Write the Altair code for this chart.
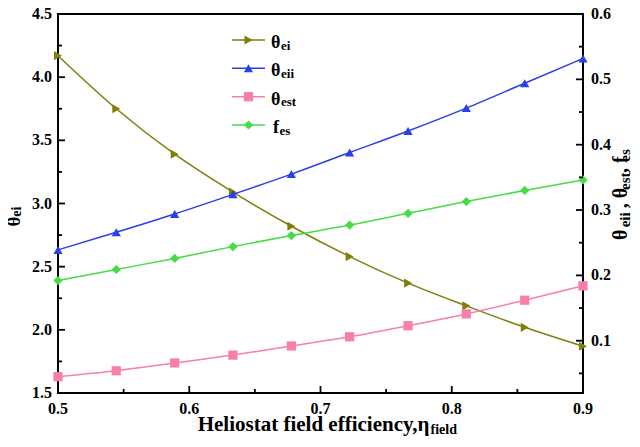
import altair as alt
import pandas as pd

# ---------------- data ----------------
x_vals = [0.5, 0.5444, 0.5889, 0.6333, 0.6778, 0.7222, 0.7667, 0.8111, 0.8556, 0.9]
theta_ei = [4.17, 3.75, 3.39, 3.09, 2.82, 2.58, 2.37, 2.19, 2.02, 1.87]
theta_eii = [0.239, 0.266, 0.294, 0.324, 0.355, 0.388, 0.421, 0.456, 0.494, 0.532]
theta_est = [0.045, 0.054, 0.066, 0.078, 0.092, 0.106, 0.123, 0.141, 0.162, 0.184]
f_es = [0.192, 0.209, 0.226, 0.244, 0.261, 0.277, 0.295, 0.313, 0.330, 0.346]

right_series = ["theta_eii", "theta_est", "f_es"]

x_major = [0.5, 0.6, 0.7, 0.8, 0.9]
x_labels = ["0.5", "0.6", "0.7", "0.8", "0.9"]
x_minor = [0.55, 0.65, 0.75, 0.85]
left_major = [1.5, 2.0, 2.5, 3.0, 3.5, 4.0, 4.5]
left_labels = ["1.5", "2.0", "2.5", "3.0", "3.5", "4.0", "4.5"]
left_minor = [1.75, 2.25, 2.75, 3.25, 3.75, 4.25]
right_major = [0.1, 0.2, 0.3, 0.4, 0.5, 0.6]
right_labels = ["0.1", "0.2", "0.3", "0.4", "0.5", "0.6"]
right_minor = [0.05, 0.15, 0.25, 0.35, 0.45, 0.55]

leg_main = ["θ", "θ", "θ", "f"]
leg_sub = ["ei", "eii", "est", "es"]

x_title_main = "Heliostat field efficiency,η"
x_title_sub = "field"
left_title = ["θ", "ei"]
right_title = ["θ", "eii", ", θ", "est", ", f", "es"]

# ---------------- style ----------------
FONT = "Liberation Serif"
W, H = 525, 379
C_EI = "#7f7f0a"
C_EII = "#2b3fe6"
C_EST = "#f77faa"
C_FES = "#44dd44"
colors = [C_EII, C_EST, C_FES]
shapes = ["triangle-up", "square", "diamond"]
MSIZE = 85

df_left = pd.DataFrame({"x": x_vals, "y": theta_ei})
rows = []
for name, vals in zip(right_series, [theta_eii, theta_est, f_es]):
    for xv, v in zip(x_vals, vals):
        rows.append({"x": xv, "y": v, "s": name})
df_right = pd.DataFrame(rows)

xscale = alt.Scale(domain=[0.5, 0.9], nice=False, zero=False)
lscale = alt.Scale(domain=[1.5, 4.5], nice=False, zero=False)
rscale = alt.Scale(domain=[0.02, 0.6], nice=False, zero=False)

TXT = dict(font=FONT, fontWeight="bold", color="black")

# ---------------- left group ----------------
left_line = alt.Chart(df_left).mark_line(color=C_EI, strokeWidth=1.5, interpolate="monotone").encode(
    x=alt.X("x:Q", scale=xscale, axis=None),
    y=alt.Y("y:Q", scale=lscale, axis=None),
)
left_pts = alt.Chart(df_left).mark_point(shape="triangle-right", filled=True, size=MSIZE,
                                         color=C_EI, opacity=1).encode(
    x=alt.X("x:Q", scale=xscale, axis=None), y=alt.Y("y:Q", scale=lscale, axis=None))


def vticks(vals, length):
    return alt.Chart(pd.DataFrame({"v": vals})).mark_rule(color="black", strokeWidth=1.8).encode(
        x=alt.X("v:Q", scale=xscale, axis=None), y=alt.value(H), y2=alt.value(H - length))


def lticks(vals, length):
    return alt.Chart(pd.DataFrame({"v": vals})).mark_rule(color="black", strokeWidth=1.8).encode(
        y=alt.Y("v:Q", scale=lscale, axis=None), x=alt.value(0), x2=alt.value(length))


def rticks(vals, length):
    return alt.Chart(pd.DataFrame({"v": vals})).mark_rule(color="black", strokeWidth=1.8).encode(
        y=alt.Y("v:Q", scale=rscale, axis=None), x=alt.value(W), x2=alt.value(W - length))


x_lab = alt.Chart(pd.DataFrame({"v": x_major, "t": x_labels})).mark_text(
    align="center", baseline="top", fontSize=16, **TXT).encode(
    x=alt.X("v:Q", scale=xscale, axis=None), y=alt.value(H + 8), text="t:N")
l_lab = alt.Chart(pd.DataFrame({"v": left_major, "t": left_labels})).mark_text(
    align="right", baseline="middle", fontSize=16, **TXT).encode(
    y=alt.Y("v:Q", scale=lscale, axis=None), x=alt.value(-6), text="t:N")
r_lab = alt.Chart(pd.DataFrame({"v": right_major, "t": right_labels})).mark_text(
    align="left", baseline="middle", fontSize=16, **TXT).encode(
    y=alt.Y("v:Q", scale=rscale, axis=None), x=alt.value(W + 8), text="t:N")

left_group = alt.layer(left_line, left_pts, lticks(left_major, 7), lticks(left_minor, 4),
                       vticks(x_major, 7), vticks(x_minor, 4), x_lab, l_lab)

# ---------------- right group ----------------
cscale = alt.Scale(domain=right_series, range=colors)
right_line = alt.Chart(df_right).mark_line(strokeWidth=1.5, interpolate="monotone").encode(
    x=alt.X("x:Q", scale=xscale, axis=None),
    y=alt.Y("y:Q", scale=rscale, axis=None),
    color=alt.Color("s:N", scale=cscale, legend=None),
)
right_pts = alt.Chart(df_right).mark_point(filled=True, size=MSIZE, opacity=1).encode(
    x=alt.X("x:Q", scale=xscale, axis=None),
    y=alt.Y("y:Q", scale=rscale, axis=None),
    color=alt.Color("s:N", scale=cscale, legend=None),
    shape=alt.Shape("s:N", scale=alt.Scale(domain=right_series, range=shapes), legend=None),
)
right_group = alt.layer(right_line, right_pts, rticks(right_major, 7), rticks(right_minor, 4), r_lab)


# ---------------- text helpers ----------------
def label(text, x, y, size, angle=0, align="left"):
    return alt.Chart(pd.DataFrame({"t": [text]})).mark_text(
        align=align, baseline="alphabetic", fontSize=size, angle=angle, **TXT).encode(
        x=alt.value(x), y=alt.value(y), text="t:N")


decor = []
# legend
leg_colors = [C_EI, C_EII, C_EST, C_FES]
leg_shapes = ["triangle-right", "triangle-up", "square", "diamond"]
leg_y = [26, 54.3, 82.7, 111]
for i in range(4):
    yl = leg_y[i]
    one = pd.DataFrame({"k": [0]})
    decor.append(alt.Chart(one).mark_rule(color=leg_colors[i], strokeWidth=1.5).encode(
        x=alt.value(174), x2=alt.value(207), y=alt.value(yl)))
    decor.append(alt.Chart(one).mark_point(shape=leg_shapes[i], filled=True, size=MSIZE,
                                           color=leg_colors[i], opacity=1).encode(
        x=alt.value(190.5), y=alt.value(yl)))
    sx = 221 if leg_main[i] == "f" else 222.5
    decor.append(label(leg_main[i], sx, yl + 8, 18, align="right"))
    decor.append(label(leg_sub[i], sx + 0.5, yl + 9.5, 13))

# x title
decor.append(label(x_title_main, 371.5, 417, 21, align="right"))
decor.append(label(x_title_sub, 372.5, 420, 14))
# left title
decor.append(label(left_title[0], -38.5, 202.7, 19, angle=270, align="right"))
decor.append(label(left_title[1], -37.5, 202.7, 14, angle=270))
# right title
rt_pos = [226, 213.3, 194.3, 176, 159, 147.7]
for j, t in enumerate(right_title):
    if j % 2 == 0:
        decor.append(label(t, 569, rt_pos[j], 20, angle=270))
    else:
        decor.append(label(t, 572, rt_pos[j], 15, angle=270))

chart = alt.layer(left_group, right_group, *decor).resolve_scale(y="independent").properties(
    width=W, height=H,
    padding={"left": 50, "top": 6, "right": 49, "bottom": 45},
    autosize=alt.AutoSizeParams(type="none"),
).configure_view(stroke="black", strokeWidth=2)

chart.save("out.html", embed_options={"renderer": "svg", "actions": False})
